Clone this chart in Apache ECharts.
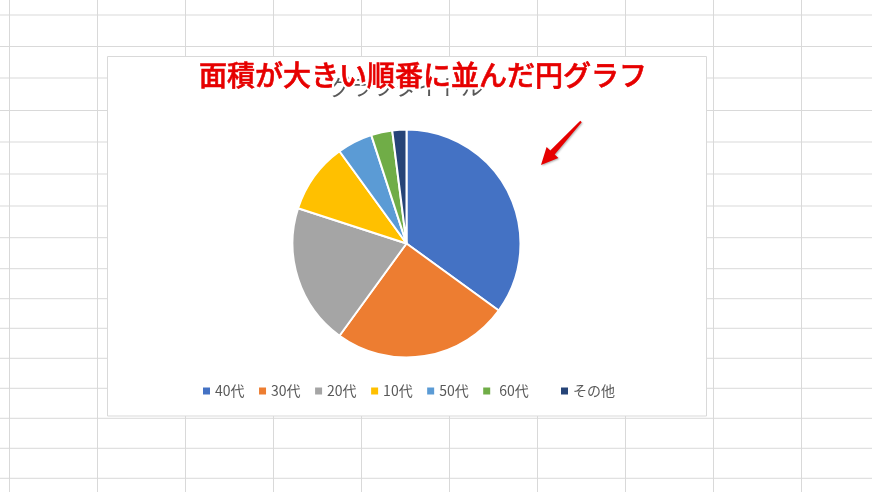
<!doctype html>
<html>
<head>
  <meta charset="utf-8">
  <script src="https://cdn.jsdelivr.net/npm/echarts@6/dist/echarts.min.js"></script>
  <style>
    html, body { margin: 0; padding: 0; background: #ffffff; }
    #chart { width: 872px; height: 492px; }
  </style>
</head>
<body>
  <div id="chart"></div>
  <script type="text/javascript">
    // chart data
    var categories = ['40代', '30代', '20代', '10代', '50代', '60代', 'その他'];
    var shares = [35, 25, 20, 10, 5, 3, 2];
    var colors = ['#4472C4', '#ED7D31', '#A5A5A5', '#FFC000', '#5B9BD5', '#70AD47', '#264478'];
    var chartTitle = 'グラフタイトル';
    var note = '面積が大きい順番に並んだ円グラフ';

    // spreadsheet background grid (x of columns, y of rows)
    var colLines = [9.5, 97.5, 185.5, 273.5, 361.5, 449.5, 537.5, 625.5, 713.5, 801.5];
    var rowLines = [15, 46.5, 78, 110.5, 142, 174, 206, 237.7, 268.7, 298.7, 328.3, 358.3, 388.3, 418.3, 448.3, 478.3];

    var myChart = echarts.init(document.getElementById('chart'), null, { renderer: 'canvas' });

    var els = [];
    colLines.forEach(function (x) {
      els.push({ type: 'line', z: 0, z2: 1, silent: true,
        shape: { x1: x, y1: 0, x2: x, y2: 492 },
        style: { stroke: '#d9d9d9', lineWidth: 1 } });
    });
    rowLines.forEach(function (y) {
      els.push({ type: 'line', z: 0, z2: 1, silent: true,
        shape: { x1: 0, y1: y, x2: 872, y2: y },
        style: { stroke: '#d9d9d9', lineWidth: 1 } });
    });
    // chart area
    els.push({ type: 'rect', z: 0, z2: 5, silent: true,
      shape: { x: 107.5, y: 56.5, width: 599, height: 359.5 },
      style: { fill: '#ffffff', stroke: '#d9d9d9', lineWidth: 1 } });

    // red arrow
    var T = [581, 121.5], P = [541, 165];
    var dx = P[0] - T[0], dy = P[1] - T[1], len = Math.sqrt(dx * dx + dy * dy);
    var u = [dx / len, dy / len], n = [-u[1], u[0]];
    var B = [P[0] - u[0] * 17, P[1] - u[1] * 17];
    function pt(o, k) { return [o[0] + n[0] * k, o[1] + n[1] * k]; }
    els.push({ type: 'polygon', z: 100, silent: true,
      shape: { points: [pt(T, 1), pt(B, 3), pt(B, 8), P, pt(B, -8), pt(B, -3), pt(T, -1)] },
      style: { fill: '#e60000', shadowColor: 'rgba(0,0,0,0.3)', shadowBlur: 2, shadowOffsetX: 1, shadowOffsetY: 1 } });

    // annotation text: white halo with shadow, then red text on top
    var noteFont = '500 28px "Noto Sans CJK JP"';
    els.push({ type: 'text', z: 100, z2: 1, silent: true,
      x: 423, y: 75,
      style: {
        text: note, fill: '#ffffff', font: noteFont,
        align: 'center', verticalAlign: 'middle',
        stroke: '#ffffff', lineWidth: 5,
        shadowColor: 'rgba(0,0,0,0.4)', shadowBlur: 3, shadowOffsetX: 1, shadowOffsetY: 2
      } });
    els.push({ type: 'text', z: 100, z2: 2, silent: true,
      x: 423, y: 75,
      style: {
        text: note, fill: '#e60000', font: noteFont,
        align: 'center', verticalAlign: 'middle',
        stroke: '#e60000', lineWidth: 0.6
      } });

    var pieData = categories.map(function (c, i) {
      return { name: c, value: shares[i] };
    });

    var legendBase = {
      top: 384,
      padding: 0,
      icon: 'rect',
      itemWidth: 7,
      itemHeight: 7,
      itemGap: 14.5,
      itemStyle: { borderWidth: 0 },
      textStyle: {
        fontFamily: 'Noto Sans CJK JP', fontSize: 14, color: '#595959',
        rich: { sp: { width: 4 } }
      }
    };

    var option = {
      animation: false,
      color: colors,
      title: {
        text: chartTitle,
        left: 329,
        top: 76,
        padding: 0,
        textStyle: { fontFamily: 'Noto Sans CJK JP', fontSize: 22, fontWeight: 'normal', color: '#595959' }
      },
      legend: [
        echarts.util.extend({
          left: 203,
          data: categories.slice(0, 6),
          formatter: function (name) {
            return name === '60代' ? '{sp| }' + name : name;
          }
        }, legendBase),
        echarts.util.extend({
          left: 561,
          data: categories.slice(6)
        }, legendBase)
      ],
      graphic: { elements: els },
      series: [{
        type: 'pie',
        center: [406.5, 243.5],
        radius: 114,
        startAngle: 90,
        clockwise: true,
        label: { show: false },
        labelLine: { show: false },
        itemStyle: { borderColor: '#ffffff', borderWidth: 2 },
        emphasis: { disabled: true },
        data: pieData
      }]
    };

    myChart.setOption(option);
  </script>
</body>
</html>
